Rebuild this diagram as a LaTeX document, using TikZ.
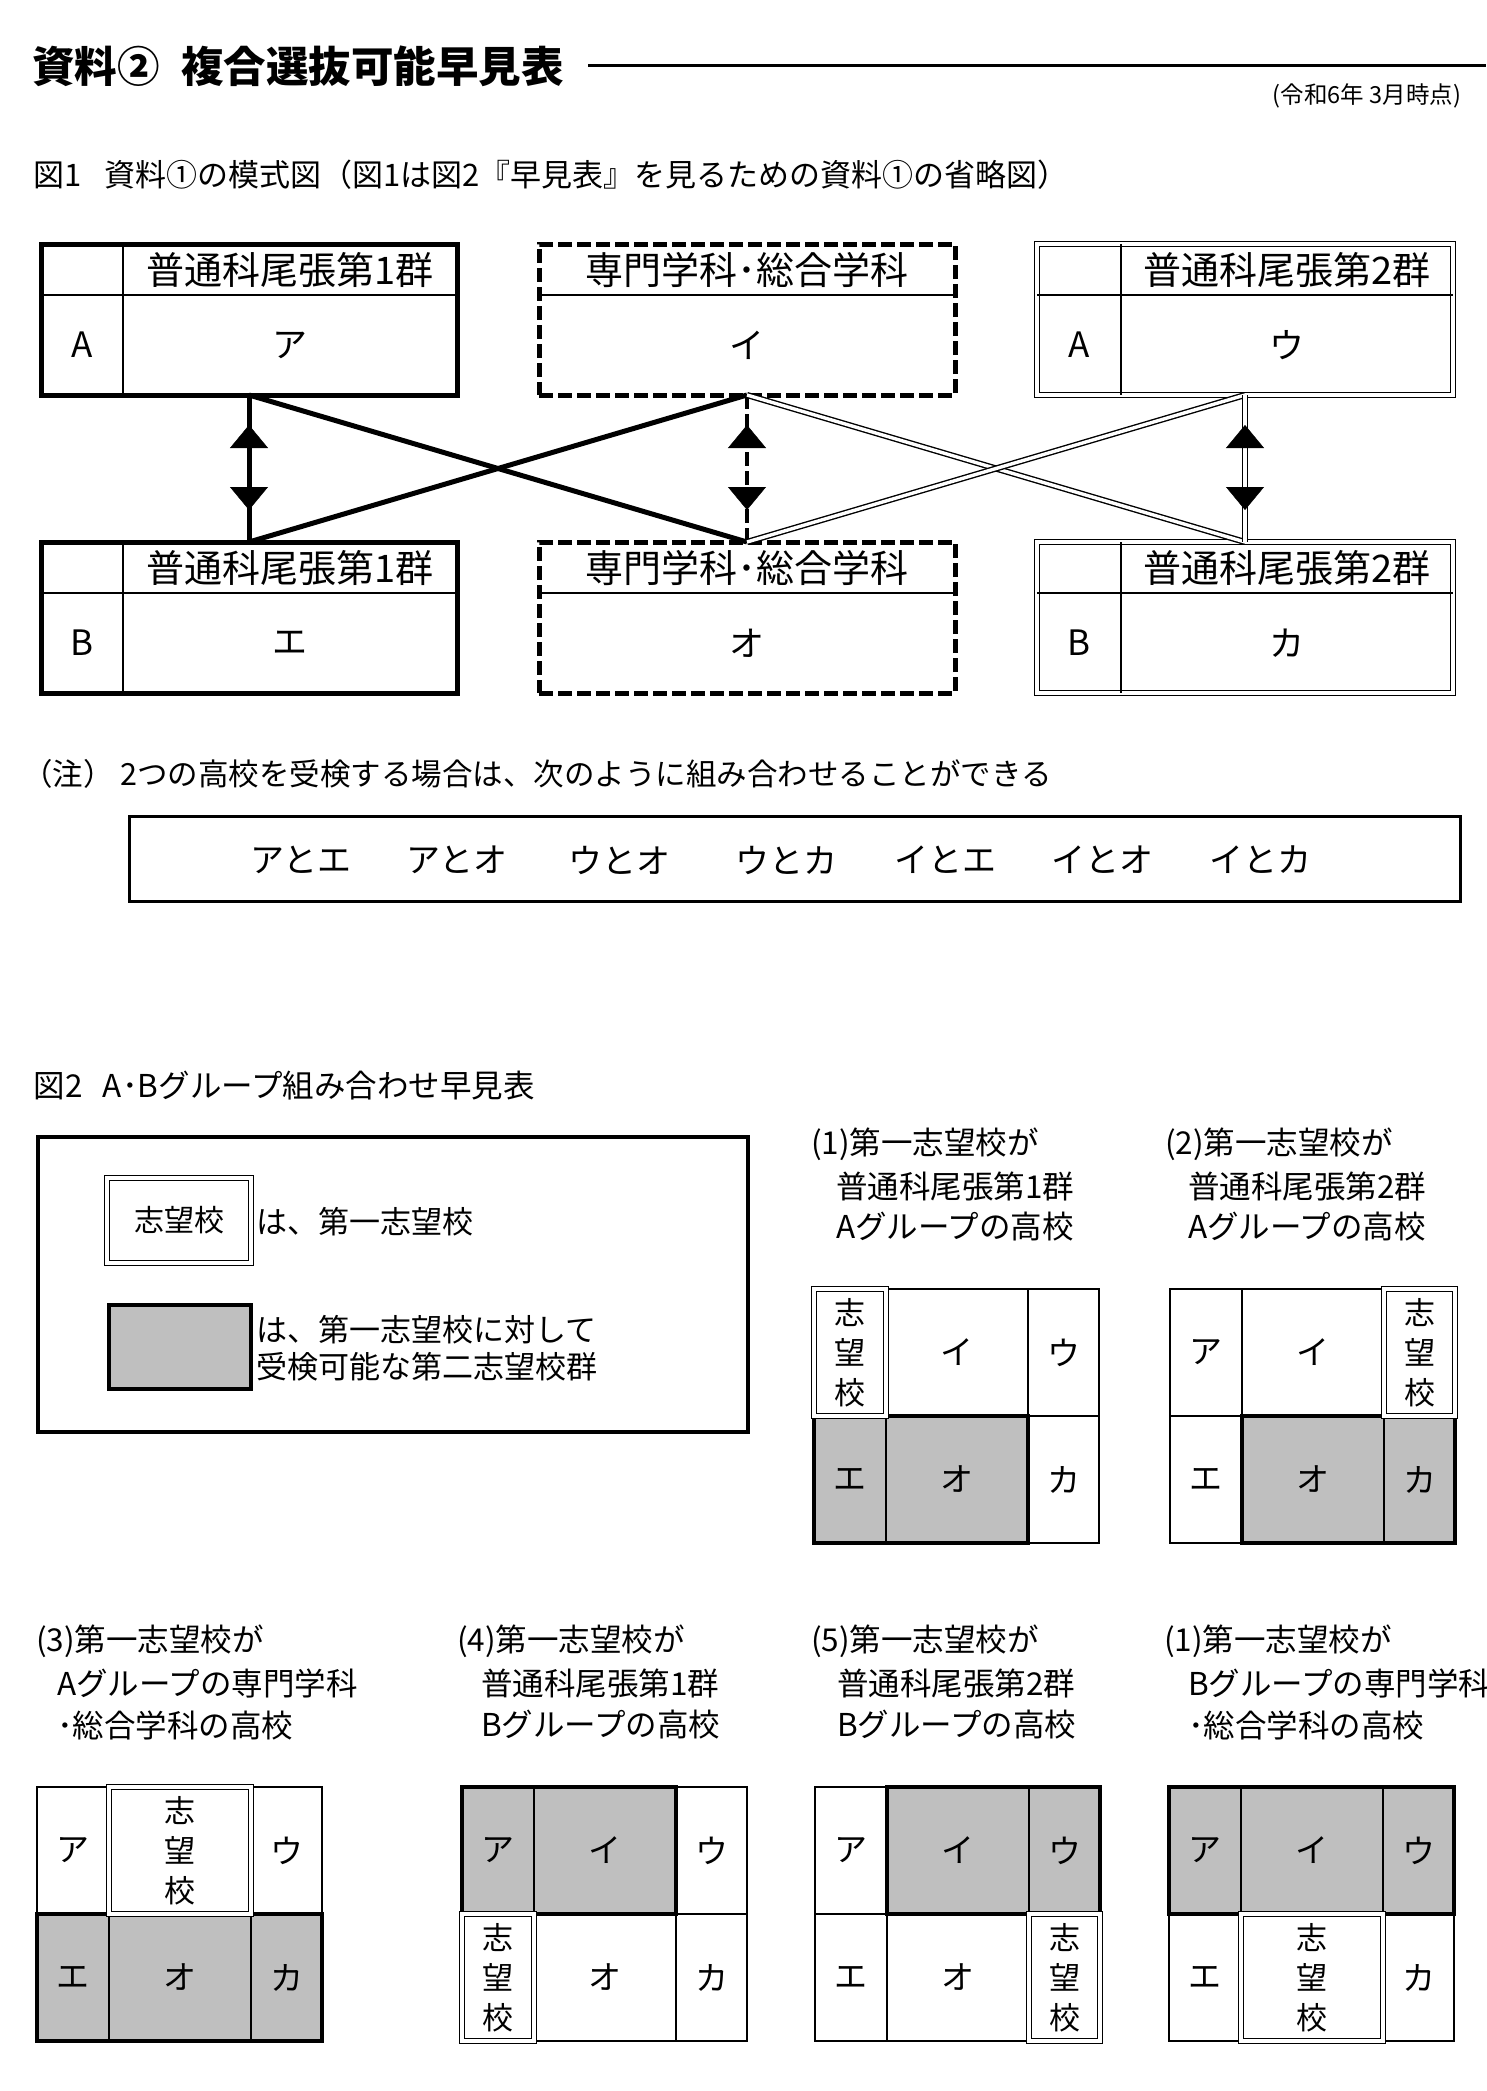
\documentclass[tikz,border=0pt]{standalone}
\usepackage{fontspec}
\setmainfont{Noto Sans CJK JP}
\usetikzlibrary{arrows.meta,decorations.markings,calc}
\definecolor{cellgray}{RGB}{191,191,191}
\newcommand{\jfs}[1]{\fontsize{#1pt}{#1pt}\selectfont}
\begin{document}
\begin{tikzpicture}[x=1pt,y=-1pt,
  every node/.style={inner sep=0pt,outer sep=0pt},
  solidbox/.style={draw,line width=5pt,minimum width=416pt,minimum height=151pt},
  dashbox/.style={draw,line width=5pt,dash pattern=on 14pt off 5pt,minimum width=416pt,minimum height=151pt},
  dblbox/.style={draw,double,line width=1.4pt,double distance=3.4pt,minimum width=416pt,minimum height=151pt},
  inline/.style={line width=2.2pt},
  hdr/.style={font=\jfs{38}},
  bodytxt/.style={font=\jfs{35}},
  thickline/.style={line width=5pt},
  dashline/.style={line width=4.6pt,dash pattern=on 14pt off 5pt},
  dblline/.style={double,line width=1.4pt,double distance=3.4pt},
  arrowmarks/.style={postaction={decorate,decoration={markings,
      mark=at position 30pt with {\arrowreversed{Triangle[width=38pt,length=23pt]}},
      mark=at position 115pt with {\arrow{Triangle[width=38pt,length=23pt]}}}}},
  txt/.style={anchor=west,font=\jfs{31}},
  gtitle/.style={anchor=west,font=\jfs{31.5}},
  combo/.style={font=\jfs{34}},
  cellbase/.style={draw,line width=1.5pt,minimum height=127pt,font=\jfs{33}},
  ca/.style={cellbase,minimum width=72pt},
  cb/.style={cellbase,minimum width=142pt},
  cc/.style={cellbase,minimum width=71pt},
  shade/.style={fill=cellgray},
  grpborder/.style={draw,line width=4.5pt},
  firstc/.style={draw,double,line width=1.4pt,double distance=3.4pt,fill=white,
      minimum height=127pt,align=center,font=\fontsize{31pt}{40pt}\selectfont},
]
\useasboundingbox (0,0) rectangle (1486,2091);
\fill[white] (0,0) rectangle (1486,2091);

% ---------- title ----------
\node[anchor=west,font=\bfseries\jfs{42.5}] (title) at (32,66) {資料②\hspace{22pt}複合選抜可能早見表};
\coordinate (tlA) at (588,65);
\coordinate (tlB) at (1486,65);
\draw[line width=3pt] (tlA) -- (tlB);
\node[anchor=east,font=\jfs{23.5}] (date) at (1461,96) {(令和6年 3月時点)};

\node[txt] (cap1) at (34,175) {図1\hspace{22pt}資料①の模式図（図1は図2『早見表』を見るための資料①の省略図）};

% ---------- figure 1 boxes ----------
\node[solidbox] (A1) at (249,319.5) {};
\node[dashbox]  (A2) at (747,319.5) {};
\node[dblbox]   (A3) at (1245,319.5) {};
\node[solidbox] (B1) at (249,617.5) {};
\node[dashbox]  (B2) at (747,617.5) {};
\node[dblbox]   (B3) at (1245,617.5) {};

\foreach \b in {A1,A2,B1,B2}{
  \draw[inline] ($(\b.north west)+(0,51)$) -- ($(\b.north east)+(0,51)$);
}
\foreach \b in {A3,B3}{
  \draw[line width=2pt] ($(\b.north west)+(0,51)$) -- ($(\b.north east)+(0,51)$);
  \draw[line width=2pt] ($(\b.north west)+(84,0)$) -- ($(\b.south west)+(84,0)$);
}
\foreach \b in {A1,B1}{
  \draw[inline] ($(\b.north west)+(82,0)$) -- ($(\b.south west)+(82,0)$);
}

\node[hdr] (A1h) at (290,270) {普通科尾張第1群};
\node[bodytxt] (A1l) at (82,345) {A};
\node[bodytxt] (A1t) at (290,345) {ア};
\node[hdr] (A2h) at (747,270) {専門学科･総合学科};
\node[bodytxt] (A2t) at (747,345) {イ};
\node[hdr] (A3h) at (1287,270) {普通科尾張第2群};
\node[bodytxt] (A3l) at (1079,345) {A};
\node[bodytxt] (A3t) at (1287,345) {ウ};

\node[hdr] (B1h) at (290,568) {普通科尾張第1群};
\node[bodytxt] (B1l) at (82,643) {B};
\node[bodytxt] (B1t) at (290,643) {エ};
\node[hdr] (B2h) at (747,568) {専門学科･総合学科};
\node[bodytxt] (B2t) at (747,643) {オ};
\node[hdr] (B3h) at (1287,568) {普通科尾張第2群};
\node[bodytxt] (B3l) at (1079,643) {B};
\node[bodytxt] (B3t) at (1287,643) {カ};

% connectors
\draw[thickline] (A1.south) -- (B1.north);
\draw[thickline] (A1.south) -- (B2.north);
\draw[thickline] (B1.north) -- (A2.south);
\draw[dashline] (A2.south) -- (B2.north);
\draw[dblline] (A2.south) -- (B3.north);
\draw[dblline] (B2.north) -- (A3.south);
\draw[dblline] (A3.south) -- (B3.north);
\path[arrowmarks] (A1.south) -- (B1.north);
\path[arrowmarks] (A2.south) -- (B2.north);
\path[arrowmarks] (A3.south) -- (B3.north);

% ---------- note ----------
\node[anchor=west,font=\jfs{30.5}] (note) at (22,774) {（注） 2つの高校を受検する場合は、次のように組み合わせることができる};
\node[draw,line width=3pt,minimum width=1331pt,minimum height=85pt] (nbox) at (794.5,858.5) {};
\node[combo] (c1) at (301,860) {アとエ};
\node[combo] (c2) at (457,860) {アとオ};
\node[combo] (c3) at (619,860) {ウとオ};
\node[combo] (c4) at (786,860) {ウとカ};
\node[combo] (c5) at (945,860) {イとエ};
\node[combo] (c6) at (1102,860) {イとオ};
\node[combo] (c7) at (1260,860) {イとカ};

% ---------- figure 2 ----------
\node[anchor=west,font=\jfs{31.5}] (cap2) at (34,1086) {図2\hspace{20pt}A･Bグループ組み合わせ早見表};

\node[draw,line width=4.5pt,minimum width=710pt,minimum height=295pt] (legbox) at (393,1284.5) {};
\node[draw,double,line width=1.4pt,double distance=3.2pt,minimum width=144pt,minimum height=85pt,font=\jfs{30}] (lgd1) at (179,1220.5) {志望校};
\node[txt] (lgt1) at (256,1222) {は、第一志望校};
\node[draw,line width=4.5pt,fill=cellgray,minimum width=142pt,minimum height=84pt] (lgd2) at (180,1347) {};
\node[anchor=west,align=left,font=\fontsize{31pt}{37.5pt}\selectfont] (lgt2) at (256,1348) {は、第一志望校に対して\\受検可能な第二志望校群};

% grid titles
\node[gtitle] (t1a) at (811,1144) {(1)第一志望校が};
\node[gtitle] (t1b) at (836,1186) {普通科尾張第1群};
\node[gtitle] (t1c) at (836,1227) {Aグループの高校};
\node[gtitle] (t2a) at (1165,1144) {(2)第一志望校が};
\node[gtitle] (t2b) at (1188,1186) {普通科尾張第2群};
\node[gtitle] (t2c) at (1188,1227) {Aグループの高校};
\node[gtitle] (t3a) at (36,1641) {(3)第一志望校が};
\node[gtitle] (t3b) at (57,1683) {Aグループの専門学科};
\node[gtitle] (t3c) at (57,1725) {･総合学科の高校};
\node[gtitle] (t4a) at (457,1641) {(4)第一志望校が};
\node[gtitle] (t4b) at (481,1683) {普通科尾張第1群};
\node[gtitle] (t4c) at (481,1725) {Bグループの高校};
\node[gtitle] (t5a) at (811,1641) {(5)第一志望校が};
\node[gtitle] (t5b) at (837,1683) {普通科尾張第2群};
\node[gtitle] (t5c) at (837,1725) {Bグループの高校};
\node[gtitle] (t6a) at (1164,1641) {(1)第一志望校が};
\node[gtitle] (t6b) at (1188,1683) {Bグループの専門学科};
\node[gtitle] (t6c) at (1188,1725) {･総合学科の高校};

% grid 1
\coordinate (G1) at (814,1289);
\node[cb] (G1b) at ($(G1)+(143,63.5)$) {イ};
\node[cc] (G1c) at ($(G1)+(249.5,63.5)$) {ウ};
\node[ca,shade] (G1d) at ($(G1)+(36,190.5)$) {エ};
\node[cb,shade] (G1e) at ($(G1)+(143,190.5)$) {オ};
\node[cc] (G1f) at ($(G1)+(249.5,190.5)$) {カ};
\draw[grpborder] (G1d.north west) rectangle (G1e.south east);
\node[firstc,minimum width=72pt] (G1a) at ($(G1)+(36,63.5)$) {志\\望\\校};

% grid 2
\coordinate (G2) at (1170,1289);
\node[ca] (G2a) at ($(G2)+(36,63.5)$) {ア};
\node[cb] (G2b) at ($(G2)+(143,63.5)$) {イ};
\node[ca] (G2d) at ($(G2)+(36,190.5)$) {エ};
\node[cb,shade] (G2e) at ($(G2)+(143,190.5)$) {オ};
\node[cc,shade] (G2f) at ($(G2)+(249.5,190.5)$) {カ};
\draw[grpborder] (G2e.north west) rectangle (G2f.south east);
\node[firstc,minimum width=71pt] (G2c) at ($(G2)+(249.5,63.5)$) {志\\望\\校};

% grid 3
\coordinate (G3) at (37,1787);
\node[ca] (G3a) at ($(G3)+(36,63.5)$) {ア};
\node[cc] (G3c) at ($(G3)+(249.5,63.5)$) {ウ};
\node[ca,shade] (G3d) at ($(G3)+(36,190.5)$) {エ};
\node[cb,shade] (G3e) at ($(G3)+(143,190.5)$) {オ};
\node[cc,shade] (G3f) at ($(G3)+(249.5,190.5)$) {カ};
\draw[grpborder] (G3d.north west) rectangle (G3f.south east);
\node[firstc,minimum width=142pt] (G3b) at ($(G3)+(143,63.5)$) {志\\望\\校};

% grid 4
\coordinate (G4) at (462,1787);
\node[ca,shade] (G4a) at ($(G4)+(36,63.5)$) {ア};
\node[cb,shade] (G4b) at ($(G4)+(143,63.5)$) {イ};
\node[cc] (G4c) at ($(G4)+(249.5,63.5)$) {ウ};
\node[cb] (G4e) at ($(G4)+(143,190.5)$) {オ};
\node[cc] (G4f) at ($(G4)+(249.5,190.5)$) {カ};
\draw[grpborder] (G4a.north west) rectangle (G4b.south east);
\node[firstc,minimum width=72pt] (G4d) at ($(G4)+(36,190.5)$) {志\\望\\校};

% grid 5
\coordinate (G5) at (815,1787);
\node[ca] (G5a) at ($(G5)+(36,63.5)$) {ア};
\node[cb,shade] (G5b) at ($(G5)+(143,63.5)$) {イ};
\node[cc,shade] (G5c) at ($(G5)+(249.5,63.5)$) {ウ};
\node[ca] (G5d) at ($(G5)+(36,190.5)$) {エ};
\node[cb] (G5e) at ($(G5)+(143,190.5)$) {オ};
\draw[grpborder] (G5b.north west) rectangle (G5c.south east);
\node[firstc,minimum width=71pt] (G5f) at ($(G5)+(249.5,190.5)$) {志\\望\\校};

% grid 6
\coordinate (G6) at (1169,1787);
\node[ca,shade] (G6a) at ($(G6)+(36,63.5)$) {ア};
\node[cb,shade] (G6b) at ($(G6)+(143,63.5)$) {イ};
\node[cc,shade] (G6c) at ($(G6)+(249.5,63.5)$) {ウ};
\node[ca] (G6d) at ($(G6)+(36,190.5)$) {エ};
\node[cc] (G6f) at ($(G6)+(249.5,190.5)$) {カ};
\draw[grpborder] (G6a.north west) rectangle (G6c.south east);
\node[firstc,minimum width=142pt] (G6e) at ($(G6)+(143,190.5)$) {志\\望\\校};
\end{tikzpicture}
\end{document}
